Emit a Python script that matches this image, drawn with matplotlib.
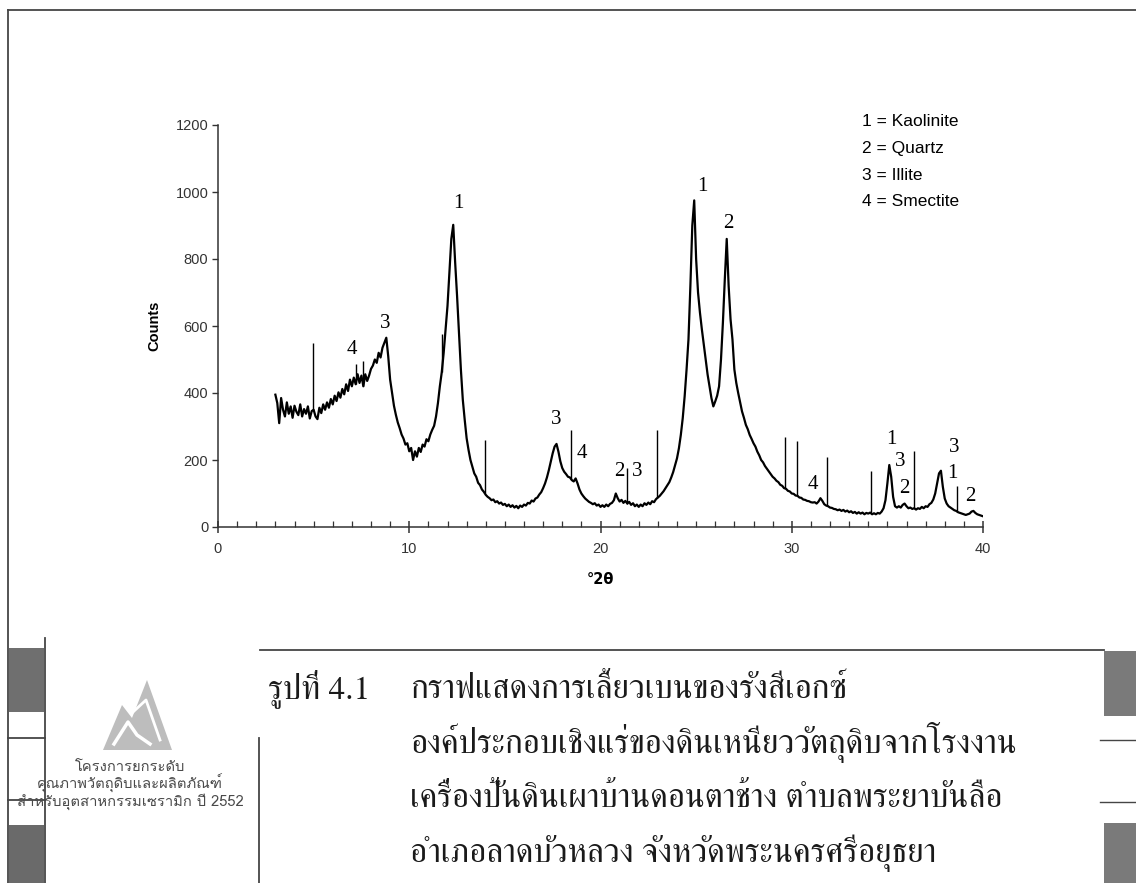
import numpy as np
import matplotlib
matplotlib.use("Agg")
import matplotlib.pyplot as plt
from matplotlib import font_manager
from matplotlib.ft2font import FT2Font
from matplotlib.patches import Rectangle, Polygon
from matplotlib.lines import Line2D
from matplotlib.ticker import MultipleLocator

# --- data -------------------------------------------------------------
TTH_START = 3.0
TTH_STEP = 0.1
counts = [
    395, 370, 310, 385, 350, 330, 372, 338, 360, 326,   # 3
    362, 344, 334, 366, 330, 352, 338, 360, 324, 346,   # 4
    350, 330, 322, 356, 340, 366, 350, 372, 356, 382,   # 5
    366, 392, 376, 402, 386, 412, 396, 426, 406, 440,   # 6
    420, 446, 426, 456, 430, 452, 420, 456, 436, 452,   # 7
    472, 482, 500, 490, 520, 506, 535, 550, 565, 510,   # 8
    440, 400, 362, 335, 312, 295, 276, 264, 246, 250,   # 9
    226, 236, 200, 226, 210, 236, 224, 246, 240, 262,   # 10
    256, 276, 290, 302, 330, 370, 420, 462, 520, 590,   # 11
    660, 760, 860, 902, 790, 690, 580, 470, 380, 320,   # 12
    265, 230, 200, 180, 160, 150, 132, 125, 112, 105,   # 13
    96, 90, 86, 80, 82, 74, 77, 70, 73, 66,             # 14
    69, 62, 67, 60, 65, 58, 63, 56, 64, 60,             # 15
    67, 64, 72, 70, 79, 76, 85, 88, 97, 104,            # 16
    116, 130, 148, 170, 195, 220, 240, 248, 225, 196,   # 17
    176, 165, 158, 150, 148, 140, 136, 145, 130, 112,   # 18
    100, 92, 85, 80, 75, 72, 68, 71, 64, 67,            # 19
    60, 65, 60, 67, 62, 69, 72, 80, 100, 86,            # 20
    76, 81, 72, 78, 70, 75, 66, 71, 62, 67,             # 21
    60, 67, 62, 71, 66, 73, 68, 77, 74, 83,             # 22
    88, 93, 100, 107, 116, 125, 134, 148, 164, 184,     # 23
    205, 235, 275, 325, 390, 470, 560, 720, 900, 975,   # 24
    800, 700, 640, 590, 545, 500, 455, 420, 385, 360,   # 25
    375, 392, 420, 500, 610, 740, 860, 720, 620, 560,   # 26
    470, 430, 400, 372, 345, 326, 305, 292, 275, 263,   # 27
    250, 240, 225, 214, 200, 193, 182, 174, 166, 158,   # 28
    150, 145, 138, 134, 126, 123, 116, 114, 108, 106,   # 29
    100, 99, 94, 93, 88, 87, 82, 81, 78, 77,            # 30
    74, 73, 74, 70, 76, 86, 78, 68, 64, 62,             # 31
    58, 57, 54, 53, 50, 52, 48, 51, 46, 49,             # 32
    44, 47, 42, 45, 40, 44, 40, 43, 38, 42,             # 33
    40, 43, 38, 41, 38, 42, 40, 46, 56, 80,             # 34
    130, 185, 150, 90, 62, 58, 62, 58, 66, 70,          # 35
    62, 56, 58, 54, 56, 52, 56, 54, 60, 56,             # 36
    62, 60, 68, 72, 82, 100, 130, 160, 168, 120,        # 37
    85, 70, 62, 58, 54, 50, 48, 44, 42, 40,             # 38
    38, 36, 38, 40, 46, 48, 42, 38, 36, 34,             # 39
    32,                                                 # 40
]

# thin vertical marker lines sitting on the trace
mark_pos = [4.95, 7.2, 7.6, 11.7, 13.95, 18.45, 21.4, 22.95, 29.65, 30.3, 31.86, 34.14, 36.39, 38.66]
mark_top = [549, 486, 496, 576, 260, 290, 175, 290, 270, 256, 210, 166, 226, 121]

# phase numbers over the peaks
peak_txt = ["4", "3", "1", "3", "4", "2", "3", "1", "2", "4", "1", "3", "2", "3", "1", "2"]
peak_x = [7.0, 8.75, 12.55, 17.7, 19.05, 21.0, 21.9, 25.35, 26.7, 31.1, 35.2, 35.65, 35.9, 38.5, 38.4, 39.35]
peak_y = [531, 606, 966, 321, 220, 166, 166, 1016, 906, 126, 260, 196, 116, 236, 161, 91]

legend_rows = ["1 = Kaolinite", "2 = Quartz", "3 = Illite", "4 = Smectite"]

caption_no = "รูปที่ 4.1"
caption = [
    "กราฟแสดงการเลี้ยวเบนของรังสีเอกซ์",
    "องค์ประกอบเชิงแร่ของดินเหนียววัตถุดิบจากโรงงาน",
    "เครื่องปั้นดินเผาบ้านดอนตาช้าง ตำบลพระยาบันลือ",
    "อำเภอลาดบัวหลวง จังหวัดพระนครศรีอยุธยา",
]
logo_text = [
    "โครงการยกระดับ",
    "คุณภาพวัตถุดิบและผลิตภัณฑ์",
    "สำหรับอุตสาหกรรมเซรามิก ปี 2552",
]

# --- fonts --------------------------------------------------------------
installed = {f.name for f in font_manager.fontManager.ttflist}


def thai_families():
    found = []
    for f in font_manager.fontManager.ttflist:
        if f.name in found:
            continue
        try:
            cmap = FT2Font(f.fname).get_charmap()
        except Exception:
            continue
        if 0x0E01 in cmap and 0x0E33 in cmap:
            found.append(f.name)
    return found


thai = thai_families()
thai_serif = [n for n in thai if "Serif" in n] or thai
thai_sans = [n for n in thai if "Serif" not in n] or thai
SERIF_TH = thai_serif[:1] + ["Liberation Serif", "DejaVu Sans"]
SANS_TH = thai_sans[:1] + ["DejaVu Sans"]
SANS = [n for n in ["Liberation Sans Narrow", "Liberation Sans"] if n in installed] + ["DejaVu Sans"]

W, H = 1136, 883
fig = plt.figure(figsize=(W / 100, H / 100), dpi=100)


def fp(x, y):
    return x / W, 1 - y / H


def fline(xs, ys, color="#454545", lw=1.3):
    fig.add_artist(Line2D([x / W for x in xs], [1 - y / H for y in ys],
                          transform=fig.transFigure, color=color, lw=lw))


def frect(x0, y0, x1, y1, color):
    fig.add_artist(Rectangle(fp(x0, y1), (x1 - x0) / W, (y1 - y0) / H,
                             transform=fig.transFigure, color=color, lw=0))


# --- chart --------------------------------------------------------------
ax = fig.add_axes([218 / W, 1 - 527 / H, (983 - 218) / W, (527 - 125) / H])
tth = TTH_START + TTH_STEP * np.arange(len(counts))
ax.plot(tth, counts, color="black", lw=1.6)
mark_bot = np.interp(mark_pos, tth, counts)
ax.vlines(mark_pos, mark_bot, mark_top, color="black", lw=1.0)

for t, x, y in zip(peak_txt, peak_x, peak_y):
    ax.text(x, y, t, ha="center", va="center", fontsize=15,
            family=["Liberation Serif", "DejaVu Serif"])

ax.set_xlim(0, 40)
ax.set_ylim(0, 1200)
for s in ("top", "right"):
    ax.spines[s].set_visible(False)
for s in ("left", "bottom"):
    ax.spines[s].set_color("#333333")
    ax.spines[s].set_linewidth(1.1)
ax.xaxis.set_major_locator(MultipleLocator(10))
ax.xaxis.set_minor_locator(MultipleLocator(1))
ax.yaxis.set_major_locator(MultipleLocator(200))
ax.tick_params(axis="x", which="major", direction="inout", length=9, width=1.1,
               pad=6, labelsize=10.5, colors="#333333")
ax.tick_params(axis="x", which="minor", direction="in", length=4, width=0.9,
               colors="#333333")
ax.tick_params(axis="y", which="major", direction="out", length=4, width=1.0,
               pad=3, labelsize=10.5, colors="#333333")
for lab in ax.get_xticklabels() + ax.get_yticklabels():
    lab.set_family(SANS)
ax.set_ylabel("Counts", fontsize=10.5, fontweight="bold", family=SANS, labelpad=10)
ax.set_xlabel("°2θ", fontsize=10.5, fontweight="bold", family=["DejaVu Sans"], labelpad=12)

for i, row in enumerate(legend_rows):
    fig.text(*fp(862, 121 + 27 * i), row, ha="left", va="center",
             fontsize=12.5, family=SANS)

# --- page frame ------------------------------------------------------------
fline([8, 1136], [10, 10])
fline([8, 8], [10, 883])
fline([45, 45], [638, 883])
frect(9, 648, 44, 712, "#6f6f6f")
fline([8, 45], [738, 738])
fline([8, 45], [800, 800])
frect(9, 825, 44, 883, "#6a6a6a")
fline([260, 1104], [650, 650])
fline([259, 259], [738, 883])
frect(1104, 651, 1136, 716, "#7a7a7a")
fline([1100, 1136], [740, 740], lw=1.0)
fline([1100, 1136], [802, 802], lw=1.0)
frect(1104, 823, 1136, 883, "#7a7a7a")

# logo mark
logo = [(103, 750), (122, 705), (132, 718), (147, 680), (172, 750)]
fig.add_artist(Polygon([fp(x, y) for x, y in logo], closed=True,
                       transform=fig.transFigure, color="#bdbdbd", lw=0))
fline([114, 128, 137, 150], [744, 722, 735, 744], color="white", lw=2.5)
fline([133, 146, 160], [712, 700, 740], color="white", lw=2.0)

# --- Thai texts ----------------------------------------------------------
logo_objs = [fig.text(*fp(130, 771 + 17.5 * i), t, ha="center", va="baseline",
                      fontsize=9, color="#4a4a4a", family=SANS_TH)
             for i, t in enumerate(logo_text)]
no_obj = fig.text(*fp(268, 698), caption_no, ha="left", va="baseline",
                  fontsize=18, color="#1a1a1a", family=SERIF_TH)
cap_objs = [fig.text(*fp(410, 698 + 54.7 * i), t, ha="left", va="baseline",
                     fontsize=18, color="#1a1a1a", family=SERIF_TH)
            for i, t in enumerate(caption)]

# scale Thai text to the widths seen on the scan
fig.canvas.draw()
r = fig.canvas.get_renderer()
w = cap_objs[1].get_window_extent(r).width
size = 18 * 610 / w
for t in cap_objs + [no_obj]:
    t.set_fontsize(size)
w = logo_objs[2].get_window_extent(r).width
size = 9 * 225 / w
for t in logo_objs:
    t.set_fontsize(size)

fig.savefig("out.png", dpi=100, facecolor="white")
